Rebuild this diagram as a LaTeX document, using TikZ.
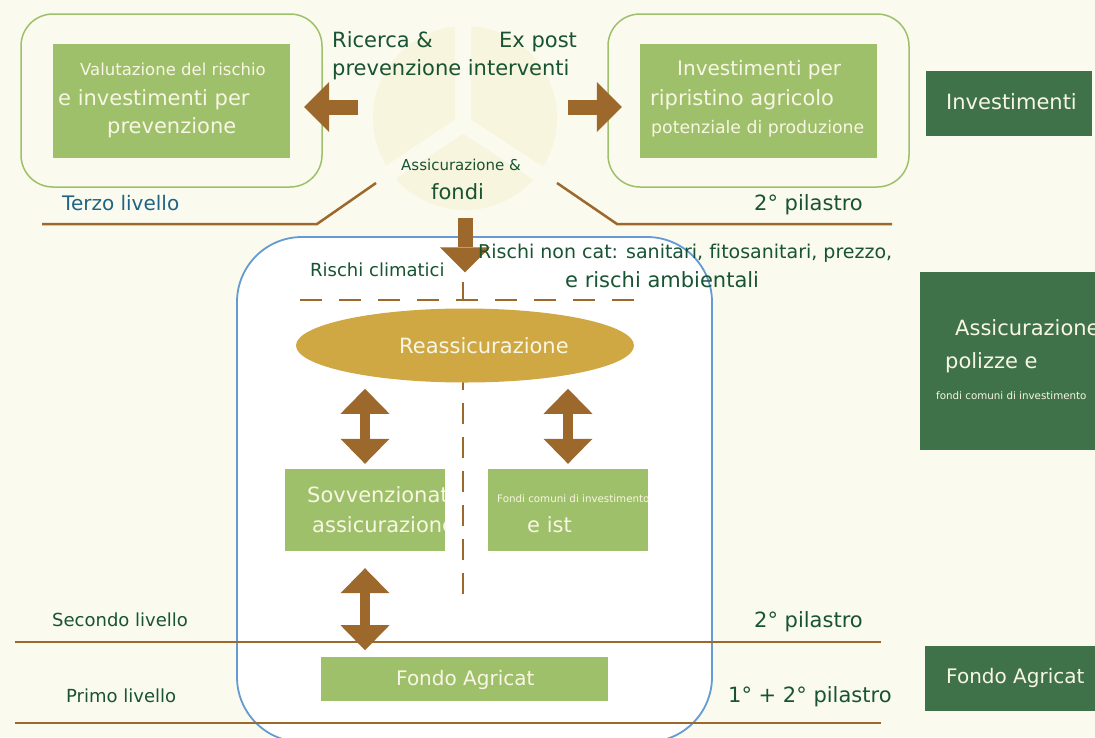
\documentclass[tikz,border=0pt]{standalone}
\usepackage{fontspec}
\setmainfont{DejaVu Sans}[Ligatures={NoCommon}]
\usetikzlibrary{positioning,calc,arrows.meta,shapes.geometric}

\definecolor{bgcream}{RGB}{250,250,238}
\definecolor{piecream}{RGB}{248,245,223}
\definecolor{leafgreen}{RGB}{159,192,106}
\definecolor{darkgreen}{RGB}{63,114,72}
\definecolor{textgreen}{RGB}{24,84,50}
\definecolor{rust}{RGB}{156,104,44}
\definecolor{skyblue}{RGB}{100,155,210}
\definecolor{ochre}{RGB}{207,168,67}
\definecolor{tealblue}{RGB}{30,100,135}
\definecolor{paletext}{RGB}{248,246,228}

\newcommand{\fsz}[1]{\fontsize{#1pt}{#1pt}\selectfont}

\tikzset{
  panel/.style={draw=leafgreen, line width=1.5pt, rounded corners=32pt},
  greenbox/.style={fill=leafgreen, inner sep=0pt},
  darkbox/.style={fill=darkgreen, inner sep=0pt},
  tierline/.style={draw=rust, line width=2.5pt},
  tagtext/.style={text=textgreen, inner sep=0pt, anchor=base west},
  boxtext/.style={text=paletext, inner sep=0pt, anchor=base west},
  blockarrow/.style={draw=rust, line width=15pt, -{Triangle[width=50pt,length=25pt,line width=0pt]}},
  dblarrow/.style={draw=rust, line width=10pt,
    {Triangle[width=49pt,length=25pt,line width=0pt]}-{Triangle[width=49pt,length=25pt,line width=0pt]}},
}

\begin{document}
\begin{tikzpicture}[x=1pt,y=-1pt]
  \useasboundingbox (0,0) rectangle (1095,737);
  \fill[bgcream] (0,0) rectangle (1095,737);

  \fill[piecream] (465,118) circle (92pt);
  \draw[bgcream, line width=16pt]
    (463,124) -- (463,20) (463,124) -- (370,186) (463,124) -- (558,186);

  \draw[panel] (21,14) rectangle (322,187);
  \draw[panel] (608,14) rectangle (909,187);
  \node[greenbox, minimum width=237pt, minimum height=114pt] (prevbox) at (171.5,101) {};
  \node[greenbox, minimum width=237pt, minimum height=114pt] (repairbox) at (758.5,101) {};

  \node[darkbox, minimum width=166pt, minimum height=65pt] (investbox) at (1009,103.5) {};
  \node[darkbox, minimum width=180pt, minimum height=178pt] (insurebox) at (1010,361) {};
  \node[darkbox, minimum width=175pt, minimum height=65pt] (agribox) at (1012.5,678.5) {};

  \draw[tierline] (42,224) -- (317,224) -- (376,183);
  \draw[tierline] (557,183) -- (617,224) -- (892,224);

  \draw[draw=skyblue, fill=white, line width=1.8pt, rounded corners=65pt] (237,237) rectangle (712,742);

  \draw[tierline] (15,642) -- (881,642);
  \draw[tierline] (15,723) -- (881,723);

  \draw[rust, line width=2.5pt, dash pattern=on 22pt off 17pt] (300,300) -- (634,300);
  \draw[rust, line width=2.5pt] (463,282) -- (463,300);
  \draw[rust, line width=2.5pt, dash pattern=on 21pt off 13pt] (463,369) -- (463,596);

  \node[ellipse, fill=ochre, inner sep=0pt, minimum width=338pt, minimum height=74pt] (reass) at (465,345.5) {};
  \node[greenbox, minimum width=160pt, minimum height=82pt] (sovbox) at (365,510) {};
  \node[greenbox, minimum width=160pt, minimum height=82pt] (fundbox) at (568,510) {};
  \node[greenbox, minimum width=287pt, minimum height=44pt] (agricat) at (464.5,679) {};

  \draw[blockarrow] ($(prevbox.east)+(68,6)$) -- ($(prevbox.east)+(14,6)$);
  \draw[blockarrow] ($(repairbox.west)+(-72,6)$) -- ($(repairbox.west)+(-18,6)$);
  \draw[blockarrow] ($(reass.north)+(0,-90)$) -- ($(reass.north)+(0,-36)$);
  \draw[dblarrow] ($(sovbox.north)+(0,-80)$) -- ($(sovbox.north)+(0,-5)$);
  \draw[dblarrow] ($(fundbox.north)+(0,-80)$) -- ($(fundbox.north)+(0,-5)$);
  \draw[dblarrow] ($(sovbox.south)+(0,17)$) -- ($(sovbox.south)+(0,99)$);

  \node[tagtext, font=\fsz{21}] at (332,47) {Ricerca \&};
  \node[tagtext, font=\fsz{21}] at (332,75) {prevenzione interventi};
  \node[tagtext, font=\fsz{21}] at (499,47) {Ex post};
  \node[tagtext, font=\fsz{15}] at (401,170) {Assicurazione \&};
  \node[tagtext, font=\fsz{21}] at (431,199) {fondi};
  \node[tagtext, font=\fsz{20}, text=tealblue] at (62,210) {Terzo livello};
  \node[tagtext, font=\fsz{21}] at (754,210) {2° pilastro};

  \node[boxtext, font=\fsz{16.5}] at (80,75) {Valutazione del rischio};
  \node[boxtext, font=\fsz{21}] at (58,105) {e investimenti per};
  \node[boxtext, font=\fsz{21}] at (107,133) {prevenzione};
  \node[boxtext, font=\fsz{20}] at (677,75) {Investimenti per};
  \node[boxtext, font=\fsz{21}] at (650,105) {ripristino agricolo};
  \node[boxtext, font=\fsz{17.3}] at (651,133) {potenziale di produzione};

  \node[boxtext, font=\fsz{21}] at (946,109) {Investimenti};
  \node[boxtext, font=\fsz{21}] at (955,335) {Assicurazione};
  \node[boxtext, font=\fsz{21}] at (945,368) {polizze e};
  \node[boxtext, font=\fsz{10.3}] at (936,399) {fondi comuni di investimento};
  \node[boxtext, font=\fsz{20}] at (946,683) {Fondo Agricat};

  \node[tagtext, font=\fsz{18}] at (310,276) {Rischi climatici};
  \node[tagtext, font=\fsz{19}] at (478,258) {Rischi non cat: sanitari, fitosanitari, prezzo,};
  \node[tagtext, font=\fsz{21}] at (565,287) {e rischi ambientali};
  \node[boxtext, font=\fsz{21}] at (399,353) {Reassicurazione};

  \begin{scope}
    \clip (sovbox.south west) rectangle (sovbox.north east);
    \node[boxtext, font=\fsz{21}] at (307,502) {Sovvenzionate};
    \node[boxtext, font=\fsz{21}] at (312,532) {assicurazione};
  \end{scope}
  \begin{scope}
    \clip (fundbox.south west) rectangle (fundbox.north east);
    \node[boxtext, font=\fsz{10.3}] at (497,502) {Fondi comuni di investimento};
    \node[boxtext, font=\fsz{21}] at (527,532) {e ist};
  \end{scope}
  \node[boxtext, font=\fsz{20}] at (396,685) {Fondo Agricat};

  \node[tagtext, font=\fsz{18}] at (52,626) {Secondo livello};
  \node[tagtext, font=\fsz{21}] at (754,627) {2° pilastro};
  \node[tagtext, font=\fsz{18}] at (66,702) {Primo livello};
  \node[tagtext, font=\fsz{21}] at (728,702) {1° + 2° pilastro};
\end{tikzpicture}
\end{document}
